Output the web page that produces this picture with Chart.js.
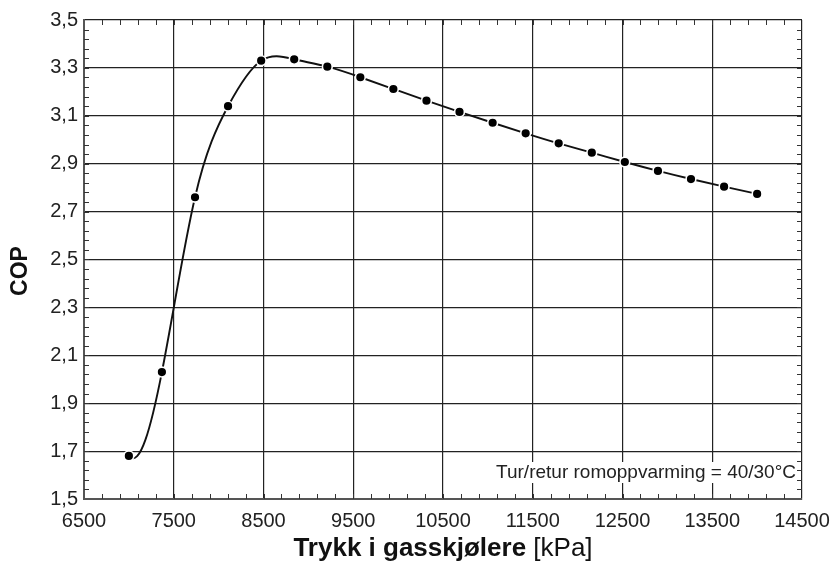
<!DOCTYPE html>
<html>
<head>
<meta charset="utf-8">
<script src="https://cdn.jsdelivr.net/npm/chart.js@4.4.1/dist/chart.umd.min.js"></script>
<style>
  html, body { margin: 0; padding: 0; background: #fff; }
  canvas { display: block; }
</style>
</head>
<body>
<canvas id="copCanvas" width="832" height="565"></canvas>
<script>
// COP vs gas cooler pressure
const pressure = [7000, 7368, 7737, 8105, 8474, 8842, 9211, 9579, 9947, 10316,
  10684, 11053, 11421, 11789, 12158, 12526, 12895, 13263, 13632, 14000];
const cop = [1.68, 2.03, 2.76, 3.14, 3.33, 3.336, 3.305, 3.261, 3.212, 3.163,
  3.116, 3.071, 3.027, 2.985, 2.946, 2.907, 2.870, 2.836, 2.804, 2.774];

const xTicks = [6500, 7500, 8500, 9500, 10500, 11500, 12500, 13500, 14500];
const yTicks = [1.5, 1.7, 1.9, 2.1, 2.3, 2.5, 2.7, 2.9, 3.1, 3.3, 3.5];
const xMinorStep = 200;
const yMinorStep = 0.04;

const noteText = 'Tur/retur romoppvarming = 40/30°C';
const xTitleBold = 'Trykk i gasskjølere';
const xTitleUnit = ' [kPa]';
const yTitle = 'COP';

const FONT = '"Liberation Sans", Arial, sans-serif';

// small dense solver, fine for 20 unknowns
function solve(A, d) {
  const n = d.length;
  for (let k = 0; k < n; k++) {
    let p = k;
    for (let i = k + 1; i < n; i++) if (Math.abs(A[i][k]) > Math.abs(A[p][k])) p = i;
    [A[k], A[p]] = [A[p], A[k]];
    [d[k], d[p]] = [d[p], d[k]];
    for (let i = k + 1; i < n; i++) {
      const f = A[i][k] / A[k][k];
      for (let j = k; j < n; j++) A[i][j] -= f * A[k][j];
      d[i] -= f * d[k];
    }
  }
  const x = new Array(n).fill(0);
  for (let i = n - 1; i >= 0; i--) {
    let s = d[i];
    for (let j = i + 1; j < n; j++) s -= A[i][j] * x[j];
    x[i] = s / A[i][i];
  }
  return x;
}

// not-a-knot cubic spline through the points instead of the default bezier
const splineCurve = {
  id: 'splineCurve',
  beforeDatasetsDraw(chart) {
    const meta = chart.getDatasetMeta(0);
    meta.dataset.updateControlPoints(chart.chartArea, 'x');
    const pts = meta.data;
    const n = pts.length;
    const h = [];
    for (let i = 0; i < n - 1; i++) h.push(pts[i + 1].x - pts[i].x);
    const A = [], d = [];
    for (let i = 0; i < n; i++) { A.push(new Array(n).fill(0)); d.push(0); }
    A[0][0] = h[1]; A[0][1] = -(h[0] + h[1]); A[0][2] = h[0];
    for (let i = 1; i < n - 1; i++) {
      A[i][i - 1] = h[i - 1];
      A[i][i] = 2 * (h[i - 1] + h[i]);
      A[i][i + 1] = h[i];
      d[i] = 6 * ((pts[i + 1].y - pts[i].y) / h[i] - (pts[i].y - pts[i - 1].y) / h[i - 1]);
    }
    A[n - 1][n - 3] = h[n - 2]; A[n - 1][n - 2] = -(h[n - 3] + h[n - 2]); A[n - 1][n - 1] = h[n - 3];
    const M = solve(A, d);

    const slope = i => {
      if (i < n - 1) {
        return (pts[i + 1].y - pts[i].y) / h[i] - h[i] * (2 * M[i] + M[i + 1]) / 6;
      }
      return (pts[i].y - pts[i - 1].y) / h[i - 1] + h[i - 1] * (M[i - 1] + 2 * M[i]) / 6;
    };
    for (let i = 0; i < n; i++) {
      const s = slope(i);
      const p = pts[i];
      const hl = i > 0 ? h[i - 1] : 0;
      const hr = i < n - 1 ? h[i] : 0;
      p.cp1x = p.x - hl / 3; p.cp1y = p.y - s * hl / 3;
      p.cp2x = p.x + hr / 3; p.cp2y = p.y + s * hr / 3;
    }
  }
};

// inward minor ticks on all four sides, note box and axis titles
const decorations = {
  id: 'decorations',
  afterDatasetsDraw(chart) {
    const ctx = chart.ctx;
    const a = chart.chartArea;
    const xs = chart.scales.x, ys = chart.scales.y;

    // note in lower right corner
    ctx.save();
    ctx.font = '19px ' + FONT;
    const w = ctx.measureText(noteText).width;
    const tx = a.right - 6, ty = a.bottom - 21;
    ctx.fillStyle = '#fff';
    ctx.fillRect(tx - w - 2, ty - 16, w + 4, 21);
    ctx.fillStyle = '#222';
    ctx.textAlign = 'right';
    ctx.textBaseline = 'alphabetic';
    ctx.fillText(noteText, tx, ty);
    ctx.restore();

    ctx.save();
    ctx.strokeStyle = '#333';
    ctx.lineWidth = 1;
    ctx.beginPath();
    for (let v = xs.min + xMinorStep; v < xs.max; v += xMinorStep) {
      const px = Math.round(xs.getPixelForValue(v)) + 0.5;
      ctx.moveTo(px, a.bottom); ctx.lineTo(px, a.bottom - 5);
      ctx.moveTo(px, a.top); ctx.lineTo(px, a.top + 5);
    }
    for (let v = ys.min + yMinorStep; v < ys.max - 1e-9; v += yMinorStep) {
      const py = Math.round(ys.getPixelForValue(v)) + 0.5;
      ctx.moveTo(a.left, py); ctx.lineTo(a.left + 5, py);
      ctx.moveTo(a.right, py); ctx.lineTo(a.right - 5, py);
    }
    ctx.stroke();
    ctx.restore();
  },
  afterDraw(chart) {
    const ctx = chart.ctx;
    const a = chart.chartArea;

    // x axis title: bold name, regular unit
    ctx.save();
    ctx.fillStyle = '#111';
    ctx.textBaseline = 'alphabetic';
    const boldFont = 'bold 26px ' + FONT;
    const normFont = '26px ' + FONT;
    ctx.font = boldFont;
    const wb = ctx.measureText(xTitleBold).width;
    ctx.font = normFont;
    const wu = ctx.measureText(xTitleUnit).width;
    const x0 = (a.left + a.right) / 2 - (wb + wu) / 2;
    ctx.font = boldFont;
    ctx.fillText(xTitleBold, x0, 556);
    ctx.font = normFont;
    ctx.fillText(xTitleUnit, x0 + wb, 556);
    ctx.restore();

    // y axis title
    ctx.save();
    ctx.translate(27, 271);
    ctx.rotate(-Math.PI / 2);
    ctx.font = 'bold 23px ' + FONT;
    ctx.fillStyle = '#111';
    ctx.textAlign = 'center';
    ctx.textBaseline = 'alphabetic';
    ctx.fillText(yTitle, 0, 0);
    ctx.restore();
  }
};

new Chart(
  document.getElementById('copCanvas'),
  {
    type: 'line',
    data: {
      datasets: [
        {
          data: pressure.map((p, i) => ({ x: p, y: cop[i] })),
          borderColor: '#111',
          borderWidth: 1.9,
          tension: 0.4,
          pointRadius: 4.9,
          pointBackgroundColor: '#000',
          pointBorderColor: '#fff',
          pointBorderWidth: 1.6,
          clip: false,
        },
      ]
    },
    options: {
      responsive: false,
      animation: false,
      devicePixelRatio: 1,
      layout: { padding: { top: 20, right: 30, left: 0, bottom: 0 } },
      plugins: {
        legend: { display: false },
        tooltip: { enabled: false },
      },
      scales: {
        x: {
          type: 'linear',
          min: 6500,
          max: 14500,
          afterBuildTicks: s => { s.ticks = xTicks.map(v => ({ value: v })); },
          afterFit: s => { s.height = 66; s.paddingLeft = 0; s.paddingRight = 0; },
          ticks: {
            callback: v => String(v),
            font: { family: FONT, size: 20 },
            color: '#222',
            padding: 10,
            maxRotation: 0,
            autoSkip: false,
          },
          grid: { color: '#222', lineWidth: 1.2, drawTicks: false },
          border: { color: '#555', width: 2 },
        },
        y: {
          min: 1.5,
          max: 3.5,
          afterBuildTicks: s => { s.ticks = yTicks.map(v => ({ value: v })); },
          afterFit: s => { s.width = 84; s.paddingTop = 0; s.paddingBottom = 0; },
          ticks: {
            callback: v => v.toFixed(1).replace('.', ','),
            font: { family: FONT, size: 20 },
            color: '#222',
            padding: 6,
            autoSkip: false,
          },
          grid: { color: '#222', lineWidth: 1.2, drawTicks: false },
          border: { color: '#555', width: 2 },
        }
      }
    },
    plugins: [splineCurve, decorations]
  }
);
</script>
</body>
</html>
